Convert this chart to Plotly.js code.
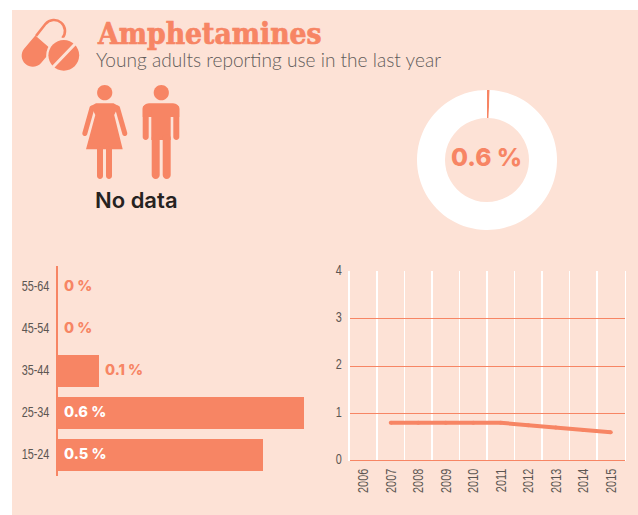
<!DOCTYPE html>
<html><head><meta charset="utf-8">
<script src="https://cdn.plot.ly/plotly-3.0.1.min.js"></script>
<style>html,body{margin:0;padding:0;background:#fff;overflow:hidden}</style></head>
<body><div id="c" style="width:638px;height:515px"></div>
<script>
// ---- data ----
var ageGroups = ['15-24','25-34','35-44','45-54','55-64'];
var ageValues = [0.5,0.6,0.1,0,0];
var ageLabels = ['0.5 %','0.6 %','0.1 %','0 %','0 %'];
var years = ['2006','2007','2008','2009','2010','2011','2012','2013','2014','2015'];
var trend = [null,0.8,0.8,0.8,0.8,0.8,0.75,0.7,0.65,0.6];
var shareValues = [0.6,99.4];
var shareLabel = '0.6 %';
var titleText = 'Amphetamines';
var subtitleText = 'Young adults reporting use in the last year';
var noDataText = 'No data';

// ---- style ----
var W=638,H=515;
var BG='#fde2d6',SAL='#f78564',TXT='#5c5652';
var NARROW='"Liberation Sans",sans-serif';
var BOLD='Inter,"Open Sans",sans-serif';
function px(x){return x/W}
function py(y){return 1-y/H}
function fmt(x,y){return px(x).toFixed(5)+','+py(y).toFixed(5)}
function arc(cx,cy,r,a0,a1){ // degrees, cubic segments
  var s='',n=Math.ceil(Math.abs(a1-a0)/90),d=(a1-a0)/n*Math.PI/180,k=4/3*Math.tan(d/4),a=a0*Math.PI/180;
  for(var i=0;i<n;i++){
    var b=a+d,x0=cx+r*Math.cos(a),y0=cy+r*Math.sin(a),x1=cx+r*Math.cos(b),y1=cy+r*Math.sin(b);
    s+=' C'+fmt(x0-k*r*Math.sin(a),y0+k*r*Math.cos(a))+' '+fmt(x1+k*r*Math.sin(b),y1-k*r*Math.cos(b))+' '+fmt(x1,y1);
    a=b;
  }
  return s;
}
function fillPath(p,col){return {type:'path',xref:'paper',yref:'paper',path:p,fillcolor:col||SAL,line:{width:0},layer:'above'}}
function poly(pts,col){return fillPath('M'+pts.map(function(q){return fmt(q[0],q[1])}).join(' L')+' Z',col)}
function disc(cx,cy,r,col){return fillPath('M'+fmt(cx+r,cy)+arc(cx,cy,r,0,360)+' Z',col)}
function capsule(x1,y1,x2,y2,w,col){
  var t=Math.atan2(y2-y1,x2-x1)*180/Math.PI,r=w/2,n=(t+90)*Math.PI/180;
  return fillPath('M'+fmt(x1+r*Math.cos(n),y1+r*Math.sin(n))+arc(x1,y1,r,t+90,t+270)+' L'+fmt(x2-r*Math.cos(n),y2-r*Math.sin(n))+arc(x2,y2,r,t-90,t+90)+' Z',col);
}
var shapes=[
  {type:'rect',xref:'paper',yref:'paper',x0:px(12),x1:px(638),y0:py(515),y1:py(10),fillcolor:BG,line:{width:0},layer:'below'},
  // pills
  {type:'path',xref:'paper',yref:'paper',layer:'above',fillcolor:'rgba(0,0,0,0)',line:{color:SAL,width:2.6},
    path:'M'+fmt(36,36)+' L'+fmt(45.6,23.8)+arc(54,31,11,220.5,400.5)},
  fillPath('M'+fmt(35.3,35.6)+' L'+fmt(52,49.9)+' L'+fmt(41.1,62.9)+arc(32.7,55.7,11,40.5,220.5)+' Z'),
  disc(63.8,55.3,17.6,BG),
  disc(63.8,55.3,15.4),
  capsule(53,67,75,44,3,BG),
  // woman
  disc(104.7,92.7,7.6),
  capsule(92,108,84.8,133.5,5),
  capsule(117.5,108,124.8,133.5,5),
  poly([[96,103.3],[113.5,103.3],[118.5,106],[114.2,115],[122.7,149.3],[86,149.3],[95.3,115],[91,106]]),
  capsule(100,149,100,176,6),
  capsule(109,149,109,176,6),
  // man
  disc(161.3,92.7,7.6),
  capsule(145.7,108,145.7,137,6),
  capsule(176.3,108,176.3,137,6),
  fillPath('M'+fmt(142.7,117)+' L'+fmt(142.7,109)+arc(149,109.6,6.3,180,270)+' L'+fmt(173,103.3)+arc(173,109.6,6.3,270,360)+' L'+fmt(179.3,117)+' Z'),
  poly([[151.3,110],[170.7,110],[170.7,140],[151.3,140]]),
  capsule(155.7,138,155.7,175,8),
  capsule(166.7,138,166.7,175,8)
];

var barAnn=ageValues.map(function(v,i){
  var inside=v>=0.3;
  return {xref:'x',yref:'y',x:inside?0:v,y:ageGroups[i],text:ageLabels[i],showarrow:false,xanchor:'left',yanchor:'middle',xshift:4,yshift:1,
    font:{family:BOLD,size:14.6,weight:800,color:inside?'#ffffff':SAL}};
});
function txt(x,y,t,size,col,fam,anchor,weight){
  return {xref:'paper',yref:'paper',x:px(x),y:py(y),text:t,showarrow:false,xanchor:anchor||'left',yanchor:'middle',
    font:{family:fam,size:size,color:col,weight:weight||400}};
}
var annotations=barAnn.concat([
  txt(94.5,33,titleText,29.7,SAL,'"DejaVu Serif Condensed","DejaVu Serif",serif','left',700),
  txt(93.5,60,subtitleText,19.1,'#625c5a','Lato,sans-serif','left',300),
  txt(93,200,noDataText,22,'#26221f',BOLD,'left',600),
  txt(486.5,157,shareLabel,24.6,SAL,BOLD,'center',800)
]);

var data=[
 {type:'bar',orientation:'h',y:ageGroups,x:ageValues,xaxis:'x',yaxis:'y',marker:{color:SAL,line:{width:0}},hoverinfo:'skip'},
 {type:'scatter',mode:'lines+markers',x:years,y:trend,xaxis:'x2',yaxis:'y2',line:{color:SAL,width:4},marker:{color:SAL,size:4},hoverinfo:'skip'},
 {type:'pie',values:shareValues,hole:0.6,sort:false,direction:'clockwise',rotation:0,textinfo:'none',hoverinfo:'skip',
  marker:{colors:[SAL,'#ffffff'],line:{width:0}},domain:{x:[px(417),px(557)],y:[py(230),py(90)]},showlegend:false}
];
var layout={
 width:W,height:H,margin:{l:0,r:0,t:0,b:0},showlegend:false,paper_bgcolor:'#ffffff',plot_bgcolor:'rgba(0,0,0,0)',
 bargap:0.238,shapes:shapes,annotations:annotations,
 xaxis:{domain:[px(58),px(304)],range:[0,0.6],visible:false,fixedrange:true},
 yaxis:{domain:[py(476),py(266)],type:'category',categoryorder:'array',categoryarray:ageGroups,showgrid:false,zeroline:false,
   showline:true,linecolor:SAL,linewidth:2.5,ticks:'',ticklabelstandoff:3,ticklabelshift:-1,tickfont:{family:NARROW,size:15.5,color:TXT},fixedrange:true},
 xaxis2:{anchor:'y2',domain:[px(349.5),px(624.5)],type:'category',categoryorder:'array',categoryarray:years,range:[-0.5,9.5],tickson:'boundaries',
   showgrid:true,gridcolor:'#ffffff',gridwidth:1.5,zeroline:false,showline:false,ticks:'',tickangle:-90,ticklabelstandoff:4,
   tickfont:{family:NARROW,size:15.5,color:TXT},fixedrange:true},
 yaxis2:{anchor:'x2',domain:[py(460.7),py(271.3)],range:[0,4],tickvals:[0,1,2,3,4],showgrid:true,gridcolor:SAL,gridwidth:1,zeroline:true,zerolinecolor:SAL,zerolinewidth:1.2,
   showline:true,mirror:true,linecolor:'#ffffff',linewidth:1.5,ticks:'',ticklabelstandoff:3,ticklabelshift:-2,tickfont:{family:NARROW,size:15.5,color:TXT},fixedrange:true}
};
Plotly.newPlot('c',data,layout,{displayModeBar:false,staticPlot:true}).then(function(){
  // condensed tick labels: the real text is kept, its advance is tightened
  document.querySelectorAll('#c .xtick text, #c .ytick text, #c .x2tick text, #c .y2tick text').forEach(function(t){
    var l=t.getComputedTextLength();
    t.setAttribute('lengthAdjust','spacingAndGlyphs');
    t.setAttribute('textLength',(l*0.7).toFixed(2));
  });
  // heavier slab title
  document.querySelectorAll('#c .annotation-text').forEach(function(t){
    if(t.textContent===titleText){t.style.stroke=SAL;t.style.strokeWidth='0.7px';}
  });
});
</script></body></html>
